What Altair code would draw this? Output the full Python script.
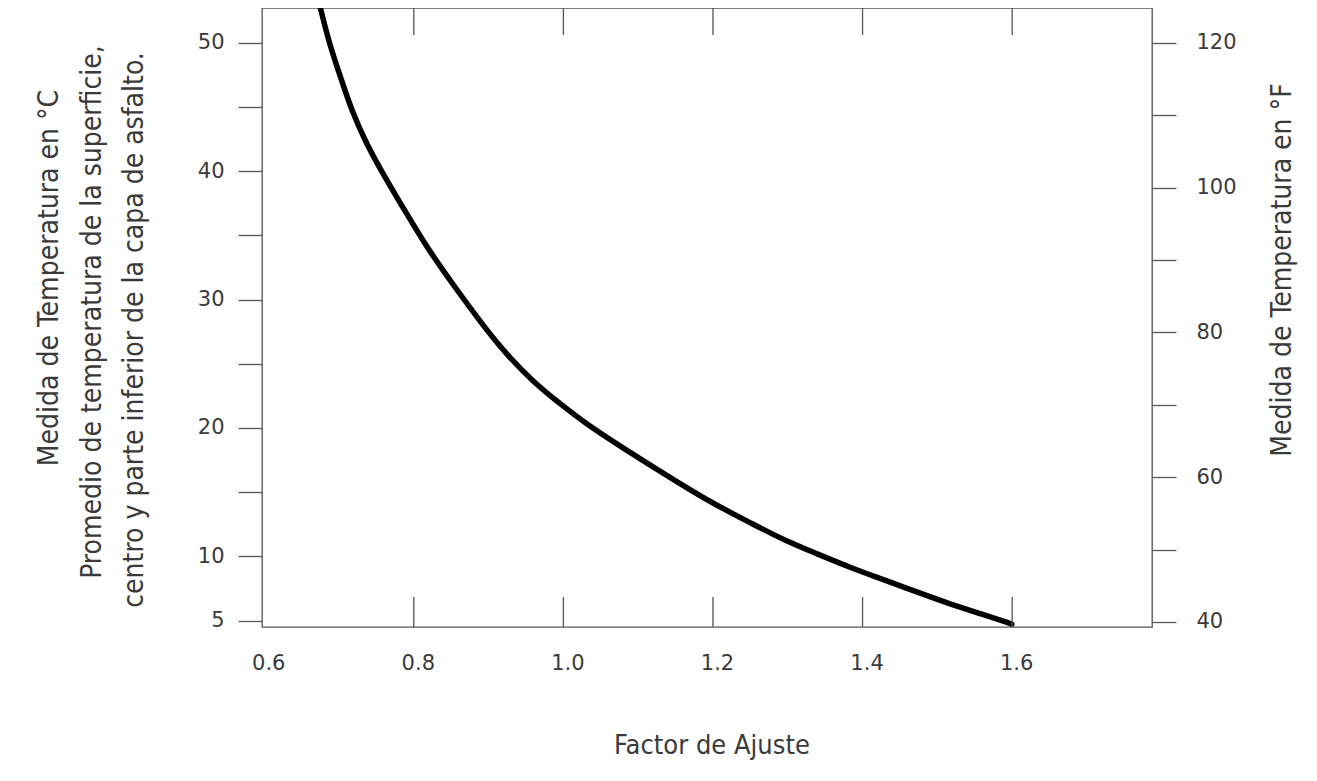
import altair as alt
import pandas as pd

# Curve: adjustment factor vs. mean asphalt temperature (°C)
factor = [0.6752, 0.6876, 0.7033, 0.7167, 0.7367, 0.7635, 0.7902, 0.8170, 0.8482,
          0.8973, 0.9284, 0.9596, 0.9953, 1.0310, 1.0712, 1.1559, 1.2050, 1.2495,
          1.2940, 1.3387, 1.3833, 1.4278, 1.4725, 1.5171, 1.5617, 1.5996]
temp_c = [52.66, 49.79, 47.10, 44.75, 42.10, 39.30, 36.70, 34.11, 31.50,
          27.60, 25.45, 23.60, 21.89, 20.30, 18.75, 15.65, 13.96, 12.63,
          11.29, 10.21, 9.13, 8.19, 7.23, 6.28, 5.47, 4.73]

x_labels = [0.6, 0.8, 1.0, 1.2, 1.4, 1.6]
x_inner_ticks = [0.8, 1.0, 1.2, 1.4, 1.6]
c_ticks = [5, 10, 15, 20, 25, 30, 35, 40, 45, 50]
f_ticks = [40, 50, 60, 70, 80, 90, 100, 110, 120]

title_c = "Medida de Temperatura en °C"
title_c2 = "Promedio de temperatura de la superficie,"
title_c3 = "centro y parte inferior de la capa de asfalto."
title_f = "Medida de Temperatura en °F"
title_x = "Factor de Ajuste"

W, H = 890, 619
X_DOMAIN = [0.597, 1.787]
C_DOMAIN = [4.5, 52.7]
F_DOMAIN = [39.3, 124.8]

TITLE_FONT = "Liberation Sans Narrow, DejaVu Sans Condensed, sans-serif"
LABEL_FONT = "DejaVu Sans"
GREY = "#3a3a3a"

curve_df = pd.DataFrame({"factor": factor, "temp": temp_c})
xscale = alt.Scale(domain=X_DOMAIN, nice=False, zero=False)

curve = alt.Chart(curve_df).mark_line(
    color="black", strokeWidth=5.5, interpolate="basis", strokeCap="round"
).encode(
    x=alt.X("factor:Q", scale=xscale,
            axis=alt.Axis(values=x_labels, format=".1f", ticks=False, grid=False,
                          domain=False, labelFont=LABEL_FONT, labelFontSize=21,
                          labelColor=GREY, labelPadding=25, labelOffset=4,
                          title=None)),
    y=alt.Y("temp:Q", scale=alt.Scale(domain=C_DOMAIN, nice=False, zero=False),
            axis=alt.Axis(values=c_ticks, orient="left", grid=False, domain=False,
                          tickSize=24, tickColor="#555", tickWidth=1.3,
                          labelExpr="(datum.value % 10 == 5 && datum.value != 5) ? '' : datum.label",
                          labelFont=LABEL_FONT, labelFontSize=21, labelColor=GREY,
                          labelPadding=14, title=None)),
)

tick_df = pd.DataFrame({"f": x_inner_ticks})
bottom_ticks = alt.Chart(tick_df).mark_rule(color="#555", strokeWidth=1.3).encode(
    x=alt.X("f:Q", scale=xscale), y=alt.value(H), y2=alt.value(H - 30)
)
top_ticks = alt.Chart(tick_df).mark_rule(color="#555", strokeWidth=1.3).encode(
    x=alt.X("f:Q", scale=xscale), y=alt.value(0), y2=alt.value(27)
)

f_df = pd.DataFrame({"F": f_ticks})
right_axis = alt.Chart(f_df).mark_point(opacity=0).encode(
    x=alt.value(0),
    y=alt.Y("F:Q", scale=alt.Scale(domain=F_DOMAIN, nice=False, zero=False),
            axis=alt.Axis(values=f_ticks, orient="right", grid=False, domain=False,
                          tickSize=24, tickColor="#555", tickWidth=1.3,
                          labelExpr="(datum.value % 20 == 0) ? datum.label : ''",
                          labelFont=LABEL_FONT, labelFontSize=21, labelColor=GREY,
                          labelPadding=20, title=None)),
)

one = pd.DataFrame({"a": [0]})

def vtext(txt, x, y):
    return alt.Chart(one).mark_text(
        text=txt, angle=270, font=TITLE_FONT, fontSize=28, color=GREY,
        align="center", baseline="middle"
    ).encode(x=alt.value(x), y=alt.value(y))

t1 = vtext(title_c, -212, 270)
t2 = vtext(title_c2, -169, 304)
t3 = vtext(title_c3, -127, 322)
t4 = vtext(title_f, 1021, 262)
tx = alt.Chart(one).mark_text(
    text=title_x, font=TITLE_FONT, fontSize=27, color=GREY,
    align="center", baseline="middle"
).encode(x=alt.value(450), y=alt.value(738))

chart = alt.layer(
    curve, bottom_ticks, top_ticks, right_axis, t1, t2, t3, t4, tx
).resolve_scale(y="independent").resolve_axis(y="independent").properties(
    width=W, height=H,
    autosize=alt.AutoSizeParams(type="none"),
    padding={"left": 254, "top": 0, "right": 150, "bottom": 138},
    background="white",
).configure_view(stroke="#555", strokeWidth=1.3)

chart.save("out.html", embed_options={"renderer": "svg", "actions": False})
